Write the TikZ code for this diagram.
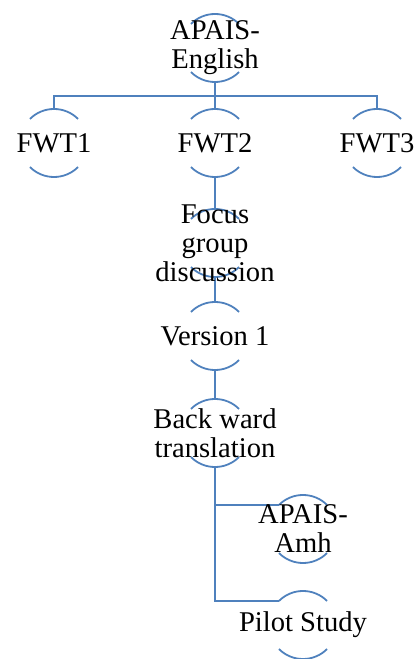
\documentclass[tikz,border=0pt]{standalone}
\usepackage{fontspec}
\newfontfamily\tnr{Liberation Serif}
\usetikzlibrary{backgrounds}
\definecolor{linkblue}{HTML}{4F81BD}
\tikzset{
  blob/.style={inner sep=0pt, align=center,
    font=\tnr\fontsize{28.6}{29}\selectfont, text=black},
  link/.style={draw=linkblue, line width=1.8pt},
}
\begin{document}
\begin{tikzpicture}[x=1pt,y=1pt]
\useasboundingbox (0,0) rectangle (413,659);
\node[blob] (top) at (215,611) {APAIS-\\English};
\node[blob] (f1) at (54,516) {FWT1};
\node[blob] (f2) at (215,516) {FWT2};
\node[blob] (f3) at (377,516) {FWT3};
\node[blob] (fg) at (215,416) {Focus\\group\\discussion};
\node[blob] (v1) at (215,323) {Version 1};
\node[blob] (bw) at (215,226) {Back ward\\translation};
\node[blob] (amh) at (303,130) {APAIS-\\Amh};
\node[blob] (pil) at (303,34) {Pilot Study};
\begin{scope}[on background layer]
\foreach \n in {top,f1,f2,f3,fg,v1,bw,amh,pil}{
  \draw[link] ([shift={(45:34)}]\n.center) arc[start angle=45,end angle=135,radius=34pt];
  \draw[link] ([shift={(225:34)}]\n.center) arc[start angle=225,end angle=315,radius=34pt];
}
\draw[link] ([yshift=-34pt]top.center) -- ++(0,-14) coordinate (bar);
\draw[link] ([yshift=34pt]f1.center) |- (bar) -| ([yshift=34pt]f3.center);
\draw[link] (bar) -- ([yshift=34pt]f2.center);
\draw[link] ([yshift=-34pt]f2.center) -- ([yshift=34pt]fg.center);
\draw[link] ([yshift=-34pt]fg.center) -- ([yshift=34pt]v1.center);
\draw[link] ([yshift=-34pt]v1.center) -- ([yshift=34pt]bw.center);
\draw[link] ([yshift=-34pt]bw.center) |- ([shift={(135:34)}]amh.center);
\draw[link] ([yshift=-34pt]bw.center) |- ([shift={(135:34)}]pil.center);
\end{scope}
\end{tikzpicture}
\end{document}
